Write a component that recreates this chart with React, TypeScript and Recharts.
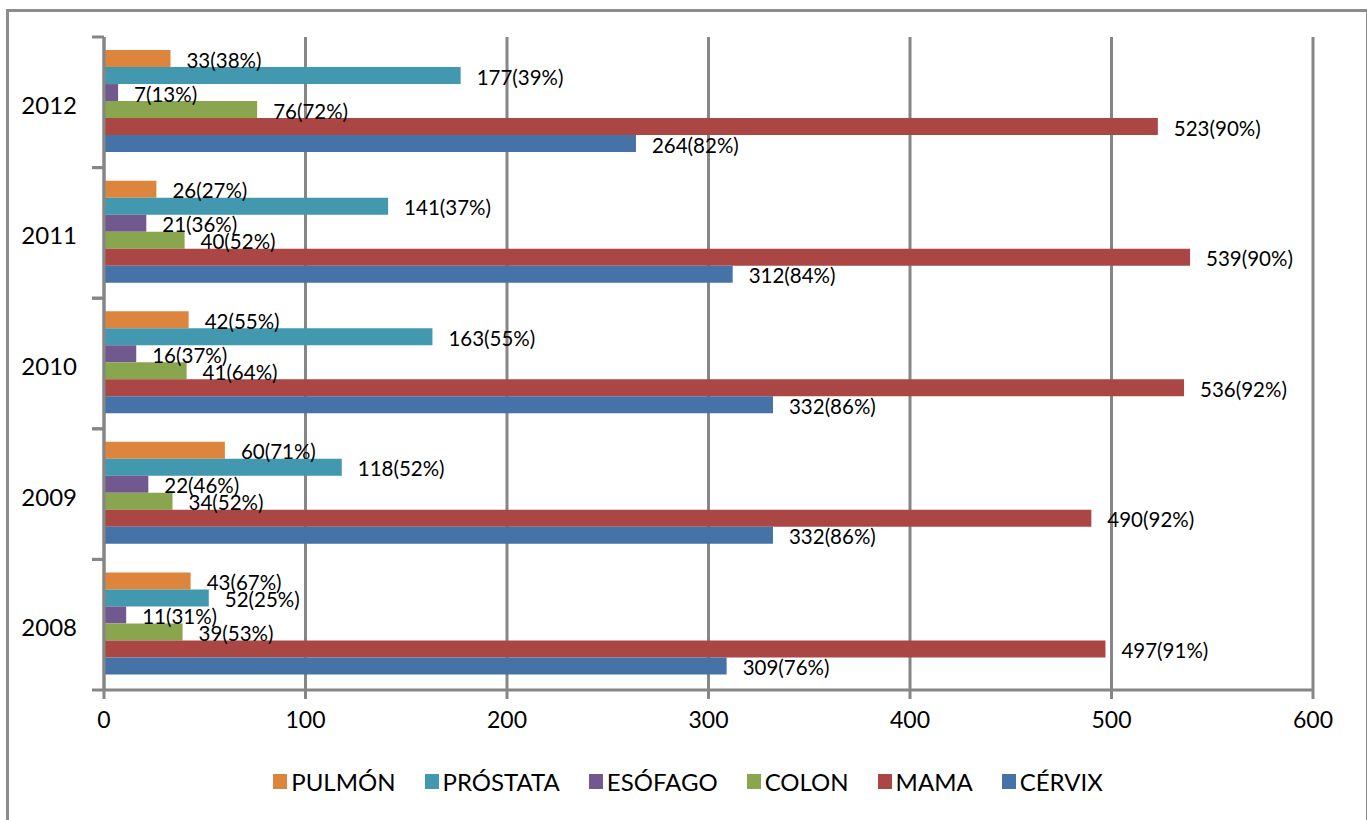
import { BarChart, Bar, XAxis, YAxis, CartesianGrid, Legend, LabelList } from 'recharts';

const years = ['2008', '2009', '2010', '2011', '2012'];

const pulmon = [43, 60, 42, 26, 33];
const pulmonPct = [67, 71, 55, 27, 38];
const prostata = [52, 118, 163, 141, 177];
const prostataPct = [25, 52, 55, 37, 39];
const esofago = [11, 22, 16, 21, 7];
const esofagoPct = [31, 46, 37, 36, 13];
const colon = [39, 34, 41, 40, 76];
const colonPct = [53, 52, 64, 52, 72];
const mama = [497, 490, 536, 539, 523];
const mamaPct = [91, 92, 92, 90, 90];
const cervix = [309, 332, 332, 312, 264];
const cervixPct = [76, 86, 86, 84, 82];

const xTicks = [0, 100, 200, 300, 400, 500, 600];

const series = [
  { key: 'PULMÓN', values: pulmon, pct: pulmonPct, color: '#DD843D' },
  { key: 'PRÓSTATA', values: prostata, pct: prostataPct, color: '#4198AF' },
  { key: 'ESÓFAGO', values: esofago, pct: esofagoPct, color: '#71588F' },
  { key: 'COLON', values: colon, pct: colonPct, color: '#89A54E' },
  { key: 'MAMA', values: mama, pct: mamaPct, color: '#AA4643' },
  { key: 'CÉRVIX', values: cervix, pct: cervixPct, color: '#4572A7' },
];

const data = years.map((year, i) => {
  const row: Record<string, any> = { year };
  series.forEach((s) => {
    row[s.key] = s.values[i];
    row[s.key + '_pct'] = s.pct[i];
  });
  return row;
});

const W = 1367;
const H = 820;
const TOP = 37;
const PLOT_BOTTOM = 690;
const X_AXIS_H = 50;
const BAND = (PLOT_BOTTOM - TOP) / years.length;
const GRAY = '#868686';

const YearTick = (props: any) => {
  const { x, y, payload } = props;
  return (
    <g>
      <line x1={x - 12} x2={x} y1={y - BAND / 2} y2={y - BAND / 2} stroke={GRAY} strokeWidth={3} />
      <line x1={x - 12} x2={x} y1={y + BAND / 2} y2={y + BAND / 2} stroke={GRAY} strokeWidth={3} />
      <text x={x - 27} y={y + 2} textAnchor="end" dominantBaseline="central" fontSize={24} fill="#000">
        {payload.value}
      </text>
    </g>
  );
};

const makeLabel = (key: string) => (props: any) => {
  const { x, y, width, height, index } = props;
  const row = data[index];
  return (
    <text
      x={x + width + 16}
      y={y + height / 2 + 1}
      dominantBaseline="central"
      fontSize={20.5}
      fill="#000"
    >
      {`${row[key]}(${row[key + '_pct']}%)`}
    </text>
  );
};

const LegendContent = () => (
  <div style={{ display: 'flex', justifyContent: 'center', alignItems: 'center', gap: 29 }}>
    {series.map((s) => (
      <div key={s.key} style={{ display: 'flex', alignItems: 'center' }}>
        <span style={{ width: 14, height: 15, background: s.color, display: 'inline-block', marginRight: 4 }} />
        <span style={{ fontSize: 24, color: '#000' }}>{s.key}</span>
      </div>
    ))}
  </div>
);

export default function App() {
  return (
    <div style={{ position: 'fixed', left: 0, top: 0, width: W, height: H, background: '#fff', fontFamily: 'Lato', overflow: 'hidden' }}>
      <div
        style={{
          position: 'absolute',
          left: 6,
          top: 9,
          width: 1357,
          height: 830,
          border: '3px solid #8c8c8c',
          borderBottom: 'none',
        }}
      />
      <div style={{ position: 'absolute', left: 0, top: 0 }}>
        <BarChart
          width={W}
          height={H}
          data={data}
          layout="vertical"
          barCategoryGap="10%"
          barGap={0}
          margin={{ top: TOP, right: 54, bottom: H - PLOT_BOTTOM - X_AXIS_H, left: 0 }}
          style={{ fontFamily: 'Lato' }}
        >
          <CartesianGrid horizontal={false} vertical stroke={GRAY} strokeWidth={3} />
          <XAxis
            type="number"
            domain={[0, 600]}
            ticks={xTicks}
            height={X_AXIS_H}
            axisLine={{ stroke: GRAY, strokeWidth: 3 }}
            tickLine={{ stroke: GRAY, strokeWidth: 3 }}
            tickSize={9}
            tickMargin={13}
            tick={{ fontSize: 23, fill: '#000' }}
          />
          <YAxis
            type="category"
            dataKey="year"
            reversed
            width={104}
            axisLine={{ stroke: GRAY, strokeWidth: 3 }}
            tickLine={false}
            tickSize={0}
            tickMargin={0}
            tick={<YearTick />}
          />
          <Legend
            layout="horizontal"
            verticalAlign="middle"
            align="center"
            wrapperStyle={{ top: 767, left: 10, width: 1356 }}
            content={<LegendContent />}
          />
          {series.map((s) => (
            <Bar key={s.key} dataKey={s.key} fill={s.color} isAnimationActive={false}>
              <LabelList dataKey={s.key} content={makeLabel(s.key)} />
            </Bar>
          ))}
        </BarChart>
      </div>
    </div>
  );
}
